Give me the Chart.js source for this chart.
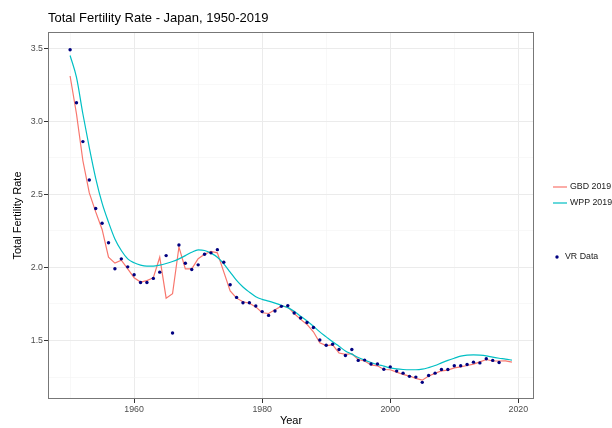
<!DOCTYPE html>
<html>
<head>
<meta charset="utf-8">
<script src="https://cdn.jsdelivr.net/npm/chart.js@4"></script>
<style>
  body { margin: 0; background: #fff; }
  #wrap { width: 612px; height: 428px; }
</style>
</head>
<body>
<div id="wrap"><canvas id="tfrChart" width="612" height="428"></canvas></div>
<script>
// Years and values
const years = [1950, 1951, 1952, 1953, 1954, 1955, 1956, 1957, 1958, 1959,
    1960, 1961, 1962, 1963, 1964, 1965, 1966, 1967, 1968, 1969,
    1970, 1971, 1972, 1973, 1974, 1975, 1976, 1977, 1978, 1979,
    1980, 1981, 1982, 1983, 1984, 1985, 1986, 1987, 1988, 1989,
    1990, 1991, 1992, 1993, 1994, 1995, 1996, 1997, 1998, 1999,
    2000, 2001, 2002, 2003, 2004, 2005, 2006, 2007, 2008, 2009,
    2010, 2011, 2012, 2013, 2014, 2015, 2016, 2017, 2018, 2019];

const gbd2019 = [3.31, 3.05, 2.73, 2.51, 2.38, 2.26, 2.07, 2.03, 2.05, 1.99,
    1.93, 1.90, 1.91, 1.93, 2.07, 1.79, 1.82, 2.14, 1.99, 1.99,
    2.06, 2.09, 2.11, 2.10, 1.97, 1.84, 1.79, 1.765, 1.755, 1.73,
    1.69, 1.685, 1.71, 1.735, 1.73, 1.685, 1.645, 1.61, 1.56, 1.485,
    1.465, 1.47, 1.415, 1.405, 1.41, 1.37, 1.36, 1.333, 1.327, 1.302,
    1.30, 1.284, 1.268, 1.257, 1.241, 1.229, 1.257, 1.275, 1.293, 1.298,
    1.313, 1.32, 1.329, 1.339, 1.354, 1.37, 1.36, 1.36, 1.361, 1.352];

const wpp2019 = [3.45, 3.30, 3.05, 2.82, 2.61, 2.44, 2.31, 2.195, 2.116, 2.059,
    2.032, 2.016, 2.009, 2.009, 2.016, 2.027, 2.041, 2.059, 2.081, 2.104,
    2.12, 2.116, 2.098, 2.07, 2.025, 1.968, 1.911, 1.866, 1.831, 1.80,
    1.782, 1.77, 1.756, 1.741, 1.725, 1.70, 1.666, 1.634, 1.598, 1.559,
    1.525, 1.491, 1.461, 1.429, 1.407, 1.384, 1.366, 1.35, 1.336, 1.325,
    1.313, 1.306, 1.302, 1.30, 1.30, 1.304, 1.315, 1.329, 1.347, 1.364,
    1.379, 1.393, 1.40, 1.402, 1.40, 1.395, 1.386, 1.379, 1.373, 1.366];

// VR data covers 1950-2017
const vrData = [3.49, 3.127, 2.861, 2.598, 2.403, 2.302, 2.169, 1.991, 2.059, 2.004,
    1.950, 1.897, 1.897, 1.925, 1.968, 2.081, 1.552, 2.154, 2.029, 1.986,
    2.018, 2.090, 2.100, 2.122, 2.036, 1.882, 1.795, 1.759, 1.759, 1.736,
    1.698, 1.672, 1.702, 1.734, 1.739, 1.688, 1.654, 1.623, 1.589, 1.504,
    1.468, 1.475, 1.439, 1.398, 1.439, 1.364, 1.366, 1.339, 1.339, 1.304,
    1.320, 1.291, 1.277, 1.255, 1.250, 1.214, 1.261, 1.277, 1.302, 1.302,
    1.327, 1.327, 1.336, 1.352, 1.347, 1.375, 1.364, 1.350];

const xTicks = [1950, 1960, 1970, 1980, 1990, 2000, 2010, 2020];
const xLabels = [1960, 1980, 2000, 2020];
const yTicks = [1.25, 1.5, 1.75, 2.0, 2.25, 2.5, 2.75, 3.0, 3.25, 3.5];
const yLabels = [1.5, 2.0, 2.5, 3.0, 3.5];

const FONT = '"Liberation Sans", Arial, sans-serif';
const GBD_COLOR = '#F8766D';
const WPP_COLOR = '#00BFC4';
const VR_COLOR = '#000080';

const toPoints = (vals) => vals.map((v, i) => ({ x: years[i], y: v }));

// Title, axis titles, panel border and legend drawn like ggplot
const decorations = {
    id: 'decorations',
    afterDraw(chart) {
        const ctx = chart.ctx;
        const a = chart.chartArea;
        ctx.save();

        ctx.strokeStyle = '#777777';
        ctx.lineWidth = 1;
        ctx.strokeRect(Math.round(a.left) + 0.5, Math.round(a.top) + 0.5,
            Math.round(a.right - a.left) - 1, Math.round(a.bottom - a.top) - 1);

        ctx.fillStyle = '#000';
        ctx.font = '13px ' + FONT;
        ctx.textAlign = 'left';
        ctx.textBaseline = 'alphabetic';
        ctx.fillText('Total Fertility Rate - Japan, 1950-2019', 48, 21.5);

        ctx.font = '11px ' + FONT;
        ctx.textAlign = 'center';
        ctx.textBaseline = 'middle';
        ctx.fillText('Year', (a.left + a.right) / 2, 421);

        ctx.save();
        ctx.translate(18, (a.top + a.bottom) / 2);
        ctx.rotate(-Math.PI / 2);
        ctx.fillText('Total Fertility Rate', 0, 0);
        ctx.restore();

        // legend
        ctx.font = '8.8px ' + FONT;
        ctx.textAlign = 'left';
        ctx.fillStyle = '#1a1a1a';
        ctx.lineWidth = 1.2;
        ctx.strokeStyle = GBD_COLOR;
        ctx.beginPath(); ctx.moveTo(553, 187); ctx.lineTo(567, 187); ctx.stroke();
        ctx.fillText('GBD 2019', 570, 187);
        ctx.strokeStyle = WPP_COLOR;
        ctx.beginPath(); ctx.moveTo(553, 203); ctx.lineTo(567, 203); ctx.stroke();
        ctx.fillText('WPP 2019', 570, 203);
        ctx.fillStyle = VR_COLOR;
        ctx.beginPath(); ctx.arc(557, 257, 1.7, 0, Math.PI * 2); ctx.fill();
        ctx.fillStyle = '#1a1a1a';
        ctx.fillText('VR Data', 565, 257);

        ctx.restore();
    }
};

function initChart() {
    const ctx = document.getElementById('tfrChart').getContext('2d');
    new Chart(ctx, {
        type: 'scatter',
        data: {
            datasets: [
                {
                    label: 'VR Data',
                    data: toPoints(vrData),
                    showLine: false,
                    pointRadius: 1.7,
                    pointBackgroundColor: VR_COLOR,
                    pointBorderWidth: 0,
                    order: 0
                },
                {
                    label: 'GBD 2019',
                    data: toPoints(gbd2019),
                    showLine: true,
                    borderColor: GBD_COLOR,
                    borderWidth: 1.2,
                    pointRadius: 0,
                    tension: 0,
                    order: 2
                },
                {
                    label: 'WPP 2019',
                    data: toPoints(wpp2019),
                    showLine: true,
                    borderColor: WPP_COLOR,
                    borderWidth: 1.2,
                    pointRadius: 0,
                    cubicInterpolationMode: 'monotone',
                    order: 1
                }
            ]
        },
        options: {
            responsive: false,
            animation: false,
            layout: { padding: { left: 0, top: 32, right: 78, bottom: 0 } },
            plugins: {
                legend: { display: false },
                title: { display: false },
                tooltip: { enabled: false }
            },
            scales: {
                x: {
                    type: 'linear',
                    min: 1946.55,
                    max: 2022.45,
                    afterBuildTicks: (scale) => { scale.ticks = xTicks.map(v => ({ value: v })); },
                    afterFit: (scale) => { scale.height = 29; },
                    border: { display: false },
                    grid: {
                        color: (c) => xLabels.includes(c.tick && c.tick.value) ? '#EBEBEB' : '#F4F4F4',
                        lineWidth: (c) => xLabels.includes(c.tick && c.tick.value) ? 1 : 0.6,
                        tickColor: (c) => xLabels.includes(c.tick && c.tick.value) ? '#333333' : 'rgba(0,0,0,0)',
                        tickLength: 4
                    },
                    ticks: {
                        padding: 1,
                        maxRotation: 0,
                        autoSkip: false,
                        color: '#4D4D4D',
                        font: { family: FONT, size: 8.8 },
                        callback: (v) => xLabels.includes(v) ? String(v) : ''
                    }
                },
                y: {
                    min: 1.1,
                    max: 3.611,
                    afterBuildTicks: (scale) => { scale.ticks = yTicks.map(v => ({ value: v })); },
                    afterFit: (scale) => { scale.width = 48; },
                    border: { display: false },
                    grid: {
                        color: (c) => yLabels.includes(c.tick && c.tick.value) ? '#EBEBEB' : '#F4F4F4',
                        lineWidth: (c) => yLabels.includes(c.tick && c.tick.value) ? 1 : 0.6,
                        tickColor: (c) => yLabels.includes(c.tick && c.tick.value) ? '#333333' : 'rgba(0,0,0,0)',
                        tickLength: 4
                    },
                    ticks: {
                        padding: 1,
                        autoSkip: false,
                        color: '#4D4D4D',
                        font: { family: FONT, size: 8.8 },
                        callback: (v) => yLabels.includes(v) ? v.toFixed(1) : ''
                    }
                }
            }
        },
        plugins: [decorations]
    });
}

document.addEventListener('DOMContentLoaded', initChart);
</script>
</body>
</html>
